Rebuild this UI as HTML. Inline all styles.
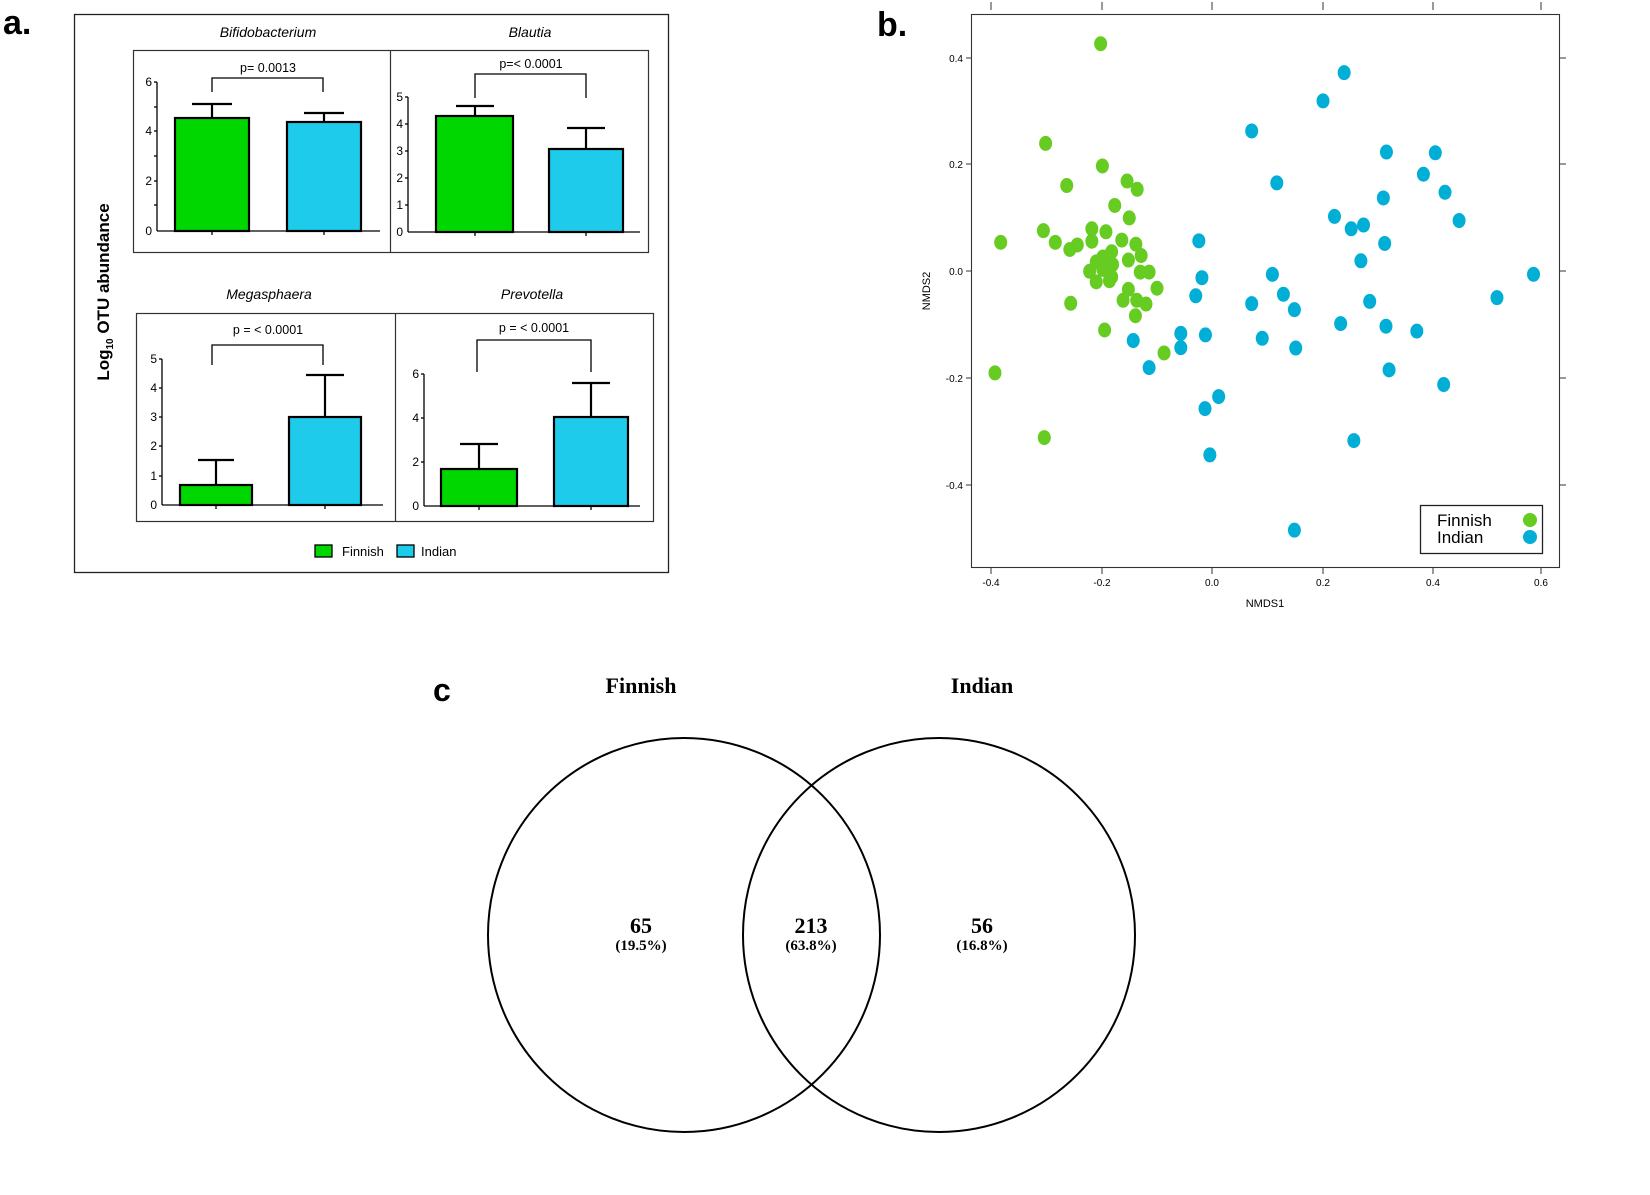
<!DOCTYPE html>
<html><head><meta charset="utf-8"><style>
body{margin:0;background:#fff;}
svg{display:block;font-family:"Liberation Sans",Arial,sans-serif;}
</style></head><body>
<svg width="1650" height="1195" viewBox="0 0 1650 1195" xmlns="http://www.w3.org/2000/svg">
<!-- Panel a -->
<text x="3" y="34" font-size="34" font-weight="bold">a.</text>
<rect x="74.5" y="14.5" width="594" height="558" fill="none" stroke="#222" stroke-width="1.3"/>
<text transform="translate(109,292) rotate(-90)" text-anchor="middle" font-size="17" font-weight="bold">Log<tspan font-size="10" dy="4">10</tspan><tspan dy="-4"> OTU abundance</tspan></text>
<g font-size="14" font-style="italic" text-anchor="middle">
<text x="268" y="37">Bifidobacterium</text>
<text x="530" y="37">Blautia</text>
<text x="269" y="299">Megasphaera</text>
<text x="532" y="299">Prevotella</text>
</g>
<rect x="133.5" y="50.5" width="515" height="202" fill="none" stroke="#333" stroke-width="1.2"/>
<line x1="390.5" y1="50" x2="390.5" y2="252" stroke="#333" stroke-width="1.2"/>
<rect x="136.5" y="313.5" width="517" height="208" fill="none" stroke="#333" stroke-width="1.2"/>
<line x1="395.5" y1="313" x2="395.5" y2="521" stroke="#333" stroke-width="1.2"/>

<g stroke="#000" stroke-width="1.3" fill="none">
<line x1="157" y1="82" x2="157" y2="231"/><line x1="157" y1="231" x2="380" y2="231"/>
<line x1="154" y1="82" x2="157" y2="82"/><line x1="154" y1="107" x2="157" y2="107"/><line x1="154" y1="131" x2="157" y2="131"/><line x1="154" y1="156" x2="157" y2="156"/><line x1="154" y1="181" x2="157" y2="181"/><line x1="154" y1="205" x2="157" y2="205"/>
<line x1="212" y1="231" x2="212" y2="235"/><line x1="324" y1="231" x2="324" y2="235"/>
<polyline points="212,92 212,78 323,78 323,92"/>
<line x1="408" y1="97" x2="408" y2="232"/><line x1="408" y1="232" x2="640" y2="232"/>
<line x1="405" y1="97" x2="408" y2="97"/><line x1="405" y1="124" x2="408" y2="124"/><line x1="405" y1="151" x2="408" y2="151"/><line x1="405" y1="178" x2="408" y2="178"/><line x1="405" y1="205" x2="408" y2="205"/>
<line x1="475" y1="232" x2="475" y2="236"/><line x1="586" y1="232" x2="586" y2="236"/>
<polyline points="475,98 475,74 586,74 586,98"/>
<line x1="162" y1="359" x2="162" y2="505"/><line x1="162" y1="505" x2="383" y2="505"/>
<line x1="159" y1="359" x2="162" y2="359"/><line x1="159" y1="388" x2="162" y2="388"/><line x1="159" y1="417" x2="162" y2="417"/><line x1="159" y1="446" x2="162" y2="446"/><line x1="159" y1="476" x2="162" y2="476"/>
<line x1="216" y1="505" x2="216" y2="509"/><line x1="325" y1="505" x2="325" y2="509"/>
<polyline points="212,365 212,345 323,345 323,365"/>
<line x1="424" y1="374" x2="424" y2="506"/><line x1="424" y1="506" x2="640" y2="506"/>
<line x1="421" y1="374" x2="424" y2="374"/><line x1="421" y1="418" x2="424" y2="418"/><line x1="421" y1="462" x2="424" y2="462"/>
<line x1="479" y1="506" x2="479" y2="510"/><line x1="591" y1="506" x2="591" y2="510"/>
<polyline points="477,372 477,340 591,340 591,372"/>
</g>
<g font-size="12" text-anchor="end">
<text x="152" y="86">6</text><text x="152" y="135">4</text><text x="152" y="185">2</text><text x="152" y="235">0</text>
<text x="403" y="101">5</text><text x="403" y="128">4</text><text x="403" y="155">3</text><text x="403" y="182">2</text><text x="403" y="209">1</text><text x="403" y="236">0</text>
<text x="157" y="363">5</text><text x="157" y="392">4</text><text x="157" y="421">3</text><text x="157" y="450">2</text><text x="157" y="480">1</text><text x="157" y="509">0</text>
<text x="419" y="378">6</text><text x="419" y="422">4</text><text x="419" y="466">2</text><text x="419" y="510">0</text>
</g>
<g font-size="12.5" text-anchor="middle">
<text x="268" y="72">p= 0.0013</text>
<text x="531" y="68">p=&lt; 0.0001</text>
<text x="268" y="334">p = &lt; 0.0001</text>
<text x="534" y="332">p = &lt; 0.0001</text>
</g>
<g stroke="#000" stroke-width="2.2">
<line x1="212" y1="118" x2="212" y2="104"/><line x1="192" y1="104" x2="232" y2="104"/>
<line x1="324" y1="122" x2="324" y2="113"/><line x1="304" y1="113" x2="344" y2="113"/>
<line x1="475" y1="116" x2="475" y2="106"/><line x1="456" y1="106" x2="494" y2="106"/>
<line x1="586" y1="149" x2="586" y2="128"/><line x1="567" y1="128" x2="605" y2="128"/>
<line x1="216" y1="485" x2="216" y2="460"/><line x1="198" y1="460" x2="234" y2="460"/>
<line x1="325" y1="417" x2="325" y2="375"/><line x1="306" y1="375" x2="344" y2="375"/>
<line x1="479" y1="469" x2="479" y2="444"/><line x1="460" y1="444" x2="498" y2="444"/>
<line x1="591" y1="417" x2="591" y2="383"/><line x1="572" y1="383" x2="610" y2="383"/>
<rect x="175" y="118" width="74" height="113" fill="#00d600"/>
<rect x="287" y="122" width="74" height="109" fill="#1ecbea"/>
<rect x="436" y="116" width="77" height="116" fill="#00d600"/>
<rect x="549" y="149" width="74" height="83" fill="#1ecbea"/>
<rect x="180" y="485" width="72" height="20" fill="#00d600"/>
<rect x="289" y="417" width="72" height="88" fill="#1ecbea"/>
<rect x="441" y="469" width="76" height="37" fill="#00d600"/>
<rect x="554" y="417" width="74" height="89" fill="#1ecbea"/>
</g>
<rect x="315" y="545" width="17" height="12" fill="#00d600" stroke="#000" stroke-width="1.3"/>
<text x="342" y="556" font-size="13">Finnish</text>
<rect x="397" y="545" width="17" height="12" fill="#1ecbea" stroke="#000" stroke-width="1.3"/>
<text x="421" y="556" font-size="13">Indian</text>

<!-- Panel b -->
<text x="877" y="36" font-size="34" font-weight="bold">b.</text>
<rect x="971.5" y="14.5" width="588" height="553" fill="none" stroke="#333" stroke-width="1.1"/>
<g stroke="#333" stroke-width="1">
<line x1="991" y1="2" x2="991" y2="10"/><line x1="1102" y1="2" x2="1102" y2="10"/><line x1="1212" y1="2" x2="1212" y2="10"/><line x1="1323" y1="2" x2="1323" y2="10"/><line x1="1433" y1="2" x2="1433" y2="10"/><line x1="1541" y1="2" x2="1541" y2="10"/>
<line x1="991" y1="568" x2="991" y2="574"/><line x1="1102" y1="568" x2="1102" y2="574"/><line x1="1212" y1="568" x2="1212" y2="574"/><line x1="1323" y1="568" x2="1323" y2="574"/><line x1="1433" y1="568" x2="1433" y2="574"/><line x1="1541" y1="568" x2="1541" y2="574"/>
<line x1="966" y1="58" x2="971" y2="58"/><line x1="966" y1="164" x2="971" y2="164"/><line x1="966" y1="271" x2="971" y2="271"/><line x1="966" y1="378" x2="971" y2="378"/><line x1="966" y1="485" x2="971" y2="485"/>
<line x1="1560" y1="58" x2="1566" y2="58"/><line x1="1560" y1="164" x2="1566" y2="164"/><line x1="1560" y1="271" x2="1566" y2="271"/><line x1="1560" y1="378" x2="1566" y2="378"/><line x1="1560" y1="485" x2="1566" y2="485"/>
</g>
<g font-size="10" text-anchor="middle">
<text x="991" y="586">-0.4</text><text x="1102" y="586">-0.2</text><text x="1212" y="586">0.0</text><text x="1323" y="586">0.2</text><text x="1433" y="586">0.4</text><text x="1541" y="586">0.6</text>
</g>
<g font-size="10" text-anchor="end">
<text x="963" y="62">0.4</text><text x="963" y="168">0.2</text><text x="963" y="275">0.0</text><text x="963" y="382">-0.2</text><text x="963" y="489">-0.4</text>
</g>
<text x="1265" y="607" font-size="11" text-anchor="middle">NMDS1</text>
<text transform="translate(930,291) rotate(-90)" font-size="11" text-anchor="middle">NMDS2</text>
<g id="pts"></g>
<rect x="1420.5" y="505.5" width="122" height="48" fill="#fff" stroke="#222" stroke-width="1.3"/>
<text x="1437" y="526" font-size="17">Finnish</text>
<text x="1437" y="543" font-size="17">Indian</text>
<ellipse cx="1530" cy="520" rx="7" ry="7" fill="#66cc22"/>
<ellipse cx="1530" cy="537" rx="7" ry="7" fill="#00aed6"/>

<!-- Panel c -->
<text x="433" y="701" font-size="32" font-weight="bold">c</text>
<g font-family="Liberation Serif,serif" font-weight="bold" text-anchor="middle">
<text x="641" y="693" font-size="22">Finnish</text>
<text x="982" y="693" font-size="22">Indian</text>
<text x="641" y="933" font-size="22">65</text>
<text x="641" y="950" font-size="15">(19.5%)</text>
<text x="811" y="933" font-size="22">213</text>
<text x="811" y="950" font-size="15">(63.8%)</text>
<text x="982" y="933" font-size="22">56</text>
<text x="982" y="950" font-size="15">(16.8%)</text>
</g>
<g fill="none" stroke="#000" stroke-width="2">
<ellipse cx="684" cy="935" rx="196" ry="197"/>
<ellipse cx="939" cy="935" rx="196" ry="197"/>
</g>
</svg>
<script>
var G=[[515,115],[390,380],[519,440],[575,480],[598,502],[438,492],[547,545],[580,578],[385,612],[288,643],[412,643],[495,607],[527,615],[563,637],[595,648],[495,640],[445,662],[462,650],[540,668],[520,682],[607,678],[578,690],[505,695],[542,702],[490,720],[520,715],[605,722],[625,722],[505,748],[535,745],[540,735],[643,765],[578,768],[566,797],[597,797],[618,807],[447,805],[594,838],[524,876],[659,937],[275,990],[387,1162]];
var B=[[1068,192],[1020,267],[858,347],[1164,403],[1275,405],[915,485],[1248,462],[1297,510],[1157,525],[1046,574],[1084,607],[1112,597],[1329,585],[738,639],[1160,646],[1106,692],[745,737],[905,728],[1498,728],[731,785],[930,781],[858,806],[1126,800],[955,822],[1415,790],[697,885],[589,904],[753,889],[882,898],[1060,859],[1163,866],[1233,879],[697,923],[958,924],[625,976],[1170,982],[1294,1021],[783,1053],[752,1085],[1090,1170],[763,1208],[955,1408]];
var g=document.getElementById('pts'),ns='http://www.w3.org/2000/svg';
function add(a,c){a.forEach(function(p){var e=document.createElementNS(ns,'ellipse');e.setAttribute('cx',991+(p[0]-266)/1249*550);e.setAttribute('cy',58+(p[1]-153)/1135*427);e.setAttribute('rx',6.5);e.setAttribute('ry',7.5);e.setAttribute('fill',c);g.appendChild(e);});}
add(G,'#66cc22');add(B,'#00aed6');
</script>
</body></html>
